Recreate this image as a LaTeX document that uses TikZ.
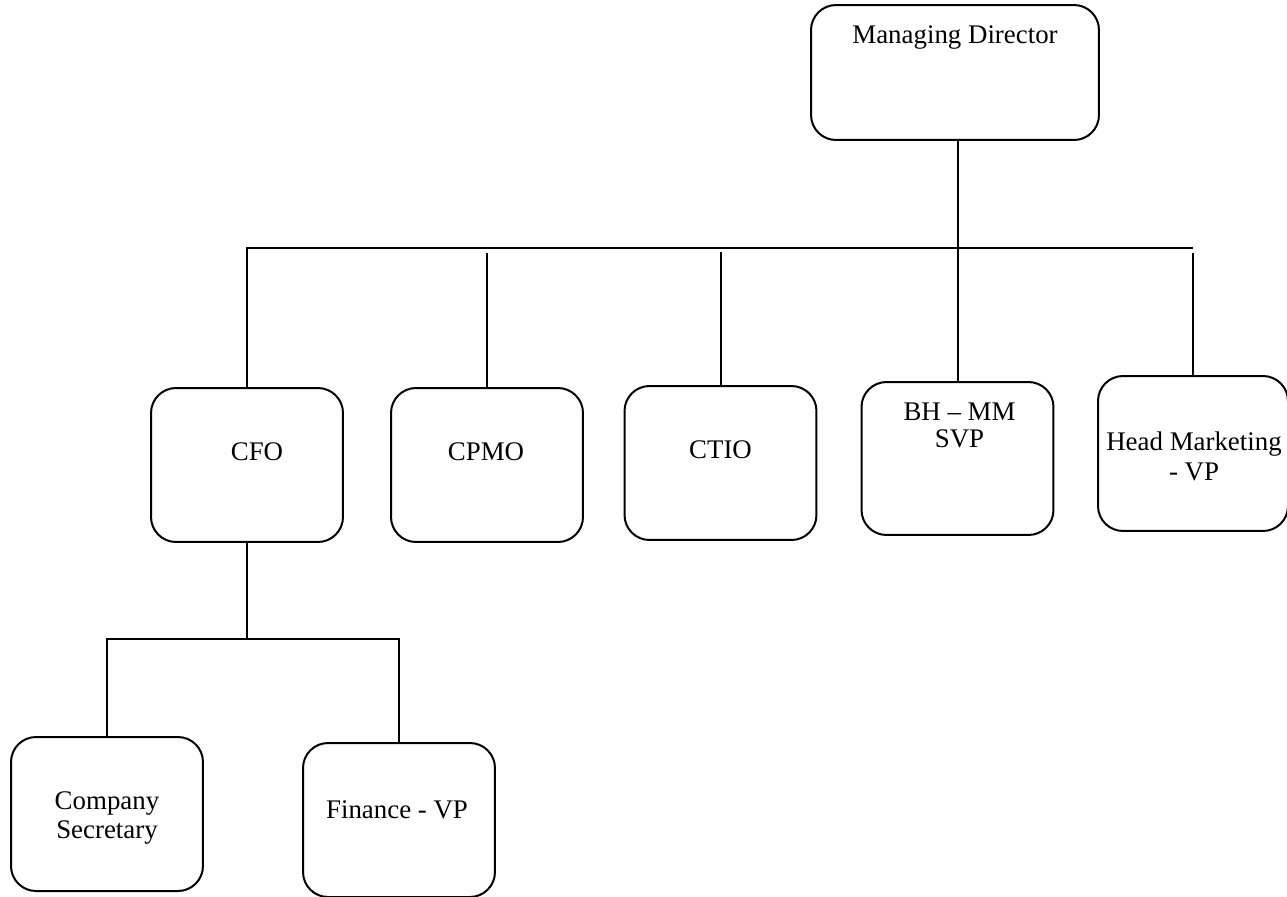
\documentclass[tikz,border=0pt]{standalone}
\usepackage{fontspec}
\setmainfont{Liberation Serif}
\usepackage{tikz}
\usetikzlibrary{calc,
                positioning,
		shapes}

\begin{document}
\begin{tikzpicture}[
		x=0.02cm, y=-0.02cm,
		line width=0.04cm,
		font=\fontsize{15.3}{17}\selectfont,
		post/.style={draw, rounded corners=0.5cm, minimum width=3.84cm, minimum height=3.08cm, inner sep=0pt},
		txt/.style={align=center}
	]
		\useasboundingbox (0,0) rectangle (1287,896);
		\node [post, minimum width=5.76cm, minimum height=2.7cm,
			label={[txt, shift={(0,-35)}]center:Managing Director}] (md) at (955,72.5) {};
		\node [post, label={[txt, shift={(10,-13)}]center:CFO}] (cfo) at (247,465) {};
		\node [post, label={[txt, shift={(-1,-13)}]center:CPMO}] (cpmo) at (487,465) {};
		\node [post, label={[txt, shift={(0,-13)}]center:CTIO}] (ctio) at (720.5,463) {};
		\node [post, minimum height=3.06cm,
			label={[txt, shift={(2,-33)}, font=\fontsize{15.3}{15.6}\selectfont]center:BH -- MM\\SVP}] (bh) at (957.5,458.5) {};
		\node [post, minimum width=3.8cm, minimum height=3.1cm,
			label={[txt, shift={(1,3)}]center:Head Marketing\\- VP}] (hm) at (1193,453.5) {};
		\node [post, label={[txt, shift={(0,4)}]center:Company\\Secretary}] (cs) at (107,814) {};
		\node [post, label={[txt, shift={(-2,-10)}]center:Finance - VP}] (fvp) at (399,820) {};
		% bus lines
		\coordinate (bus) at (0,248);
		\coordinate (sub) at (0,639);
		\draw (cfo.north) -- (cfo.north |- bus) -- (hm.north |- bus);
		\draw (bh.north |- md.south) -- (bh.north);
		\draw (cpmo.north) -- ($(cpmo.north |- bus)+(0,5)$);
		\draw (ctio.north) -- ($(ctio.north |- bus)+(0,4)$);
		\draw (hm.north) -- ($(hm.north |- bus)+(0,5)$);
		\draw (cfo.south) -- (cfo.south |- sub);
		\draw (cs.north) -- (cs.north |- sub) -- (fvp.north |- sub) -- (fvp.north);
	\end{tikzpicture}
\end{document}
